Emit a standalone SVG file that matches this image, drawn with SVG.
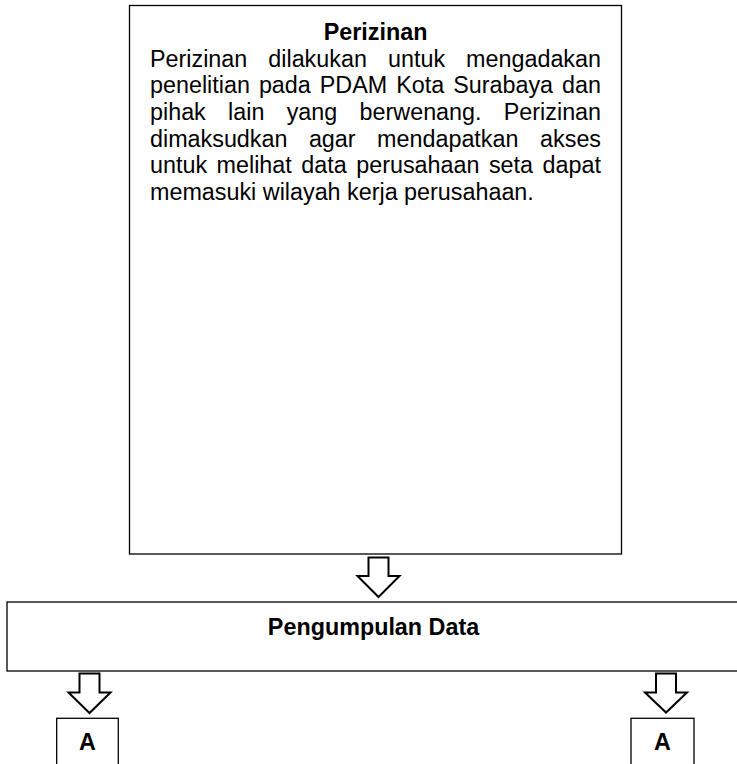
<svg xmlns="http://www.w3.org/2000/svg" width="737" height="764" viewBox="0 0 737 764">
<style>
.box{fill:#fff;stroke:#000;stroke-width:1.3}
.arr{fill:#fff;stroke:#000;stroke-width:2;stroke-linejoin:miter}
.t{font-family:"Liberation Sans",Arial,sans-serif;font-size:23.33px;fill:#000}
.b{font-weight:bold}
</style>
<rect width="737" height="764" fill="#fff"/>
<g id="perizinan">
<rect class="box" x="129.5" y="5.5" width="492" height="548.5"/>
<text class="t b" x="375.6" y="40" text-anchor="middle">Perizinan</text>
<text class="t"><tspan x="150" y="66.7">Perizinan</tspan><tspan x="268.3" y="66.7">dilakukan</tspan><tspan x="388" y="66.7">untuk</tspan><tspan x="466.1" y="66.7">mengadakan</tspan></text>
<text class="t"><tspan x="150" y="93.3">penelitian</tspan><tspan x="258.9" y="93.3">pada</tspan><tspan x="319.8" y="93.3">PDAM</tspan><tspan x="396.2" y="93.3">Kota</tspan><tspan x="453.2" y="93.3">Surabaya</tspan><tspan x="562.1" y="93.3">dan</tspan></text>
<text class="t"><tspan x="150" y="120">pihak</tspan><tspan x="228.1" y="120">lain</tspan><tspan x="286.7" y="120">yang</tspan><tspan x="359.6" y="120">berwenang.</tspan><tspan x="503.8" y="120">Perizinan</tspan></text>
<text class="t"><tspan x="150" y="146.7">dimaksudkan</tspan><tspan x="308.9" y="146.7">agar</tspan><tspan x="377.1" y="146.7">mendapatkan</tspan><tspan x="540.1" y="146.7">akses</tspan></text>
<text class="t"><tspan x="150" y="173.3">untuk</tspan><tspan x="216.6" y="173.3">melihat</tspan><tspan x="301.3" y="173.3">data</tspan><tspan x="356.2" y="173.3">perusahaan</tspan><tspan x="488.9" y="173.3">seta</tspan><tspan x="542.5" y="173.3">dapat</tspan></text>
<text class="t" x="150" y="200">memasuki wilayah kerja perusahaan.</text>
</g>
<g id="pengumpulan">
<rect class="box" x="7" y="602" width="736" height="69"/>
<text class="t b" x="373.5" y="635" text-anchor="middle">Pengumpulan Data</text>
</g>
<g id="a-left">
<rect class="box" x="56.7" y="718.3" width="61.6" height="60"/>
<text class="t b" x="87.5" y="750" text-anchor="middle">A</text>
</g>
<g id="a-right">
<rect class="box" x="631" y="718.3" width="63" height="60"/>
<text class="t b" x="662.5" y="750" text-anchor="middle">A</text>
</g>
<g id="connectors">
<polygon class="arr" points="368.5,557.5 388.5,557.5 388.5,576 399.5,576 378.5,597 357.5,576 368.5,576"/>
<polygon class="arr" points="79.5,673.5 99.5,673.5 99.5,692.5 110.5,692.5 89.5,713 68.5,692.5 79.5,692.5"/>
<polygon class="arr" points="656,673.5 676,673.5 676,692.5 687,692.5 666,712.5 645,692.5 656,692.5"/>
</g>
</svg>
